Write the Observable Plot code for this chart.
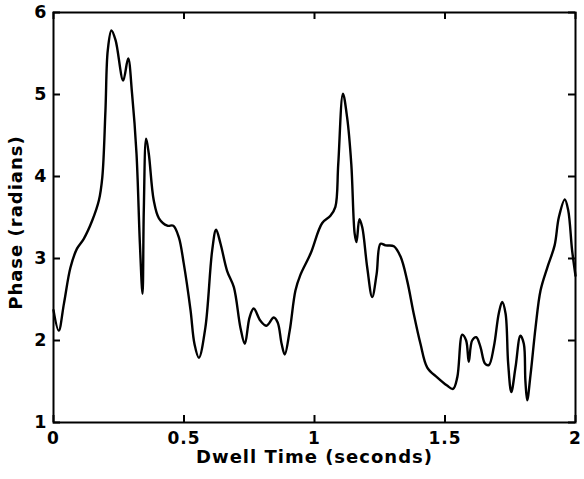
<!DOCTYPE html>
<html>
<head>
<meta charset="utf-8">
<script src="https://cdn.jsdelivr.net/npm/d3@7"></script>
<script src="https://cdn.jsdelivr.net/npm/@observablehq/plot@0.6"></script>
<style>
  html, body { margin: 0; padding: 0; background: #fff; }
</style>
</head>
<body>
<div id="chart"></div>
<script>
const time = [0.000, 0.020, 0.040, 0.065, 0.090, 0.116, 0.148, 0.174, 0.187, 0.199,
  0.208, 0.222, 0.238, 0.267, 0.286, 0.301, 0.318, 0.331, 0.341, 0.346,
  0.355, 0.365, 0.384, 0.404, 0.436, 0.459, 0.480, 0.499, 0.525, 0.540,
  0.557, 0.582, 0.608, 0.623, 0.640, 0.665, 0.691, 0.716, 0.733, 0.751,
  0.767, 0.793, 0.816, 0.844, 0.859, 0.874, 0.886, 0.905, 0.927, 0.946,
  0.985, 1.029, 1.061, 1.080, 1.091, 1.109, 1.125, 1.141, 1.154, 1.161,
  1.172, 1.183, 1.202, 1.221, 1.238, 1.253, 1.272, 1.304, 1.330, 1.355,
  1.380, 1.406, 1.432, 1.470, 1.508, 1.531, 1.547, 1.566, 1.581, 1.591,
  1.604, 1.620, 1.636, 1.653, 1.668, 1.687, 1.706, 1.719, 1.732, 1.742,
  1.754, 1.770, 1.789, 1.802, 1.808, 1.815, 1.828, 1.847, 1.866, 1.892,
  1.920, 1.936, 1.959, 1.972, 1.987, 2.000];
const phase = [2.37, 2.12, 2.45, 2.89, 3.12, 3.24, 3.46, 3.71, 3.99, 4.80,
  5.54, 5.78, 5.66, 5.17, 5.44, 5.01, 4.28, 3.18, 2.57, 3.59,
  4.46, 4.28, 3.71, 3.49, 3.40, 3.40, 3.26, 2.94, 2.37, 1.96,
  1.79, 2.16, 3.10, 3.35, 3.18, 2.85, 2.65, 2.16, 1.96, 2.28,
  2.39, 2.24, 2.18, 2.28, 2.22, 1.96, 1.83, 2.12, 2.61, 2.80,
  3.06, 3.43, 3.52, 3.63, 4.15, 5.01, 4.72, 4.15, 3.30, 3.20,
  3.48, 3.38, 2.89, 2.53, 2.81, 3.18, 3.16, 3.15, 3.02, 2.73,
  2.33, 1.96, 1.67, 1.55, 1.45, 1.41, 1.55, 2.07, 2.00, 1.74,
  2.00, 2.04, 1.92, 1.72, 1.70, 1.92, 2.33, 2.47, 2.33, 1.72,
  1.37, 1.67, 2.06, 1.96, 1.51, 1.27, 1.59, 2.16, 2.61, 2.89,
  3.16, 3.50, 3.72, 3.59, 3.10, 2.79];
const xTicks = [0, 0.5, 1, 1.5, 2];
const yTicks = [1, 2, 3, 4, 5, 6];
const xLabel = "Dwell Time (seconds)";
const yLabel = "Phase (radians)";

const data = time.map((t, i) => ({t, p: phase[i]}));

const W = 584, H = 479, mL = 53, mR = 9, mT = 12, mB = 57;
const frameW = W - mL - mR, frameH = H - mT - mB, tickLen = 7;
const tickStyle = {stroke: "#000", strokeWidth: 2};

const chart = Plot.plot({
  width: W,
  height: H,
  marginLeft: mL,
  marginRight: mR,
  marginTop: mT,
  marginBottom: mB,
  style: {fontFamily: "DejaVu Sans", fontWeight: "bold", letterSpacing: "1px", background: "#fff", color: "#000"},
  x: {domain: [0, 2]},
  y: {domain: [1, 6]},
  marks: [
    Plot.line(data, {x: "t", y: "p", stroke: "#000", strokeWidth: 2.4, curve: "catmull-rom"}),
    Plot.tickX(xTicks, {x: d => d, insetTop: frameH - tickLen, ...tickStyle}),
    Plot.tickX(xTicks, {x: d => d, insetBottom: frameH - tickLen, ...tickStyle}),
    Plot.tickY(yTicks, {y: d => d, insetRight: frameW - tickLen, ...tickStyle}),
    Plot.tickY(yTicks, {y: d => d, insetLeft: frameW - tickLen, ...tickStyle}),
    Plot.frame({stroke: "#000", strokeWidth: 2}),
    Plot.axisX(xTicks, {anchor: "bottom", tickSize: 0, tickPadding: 9, fontSize: 17, fontWeight: "bold", tickFormat: d => String(d), label: null}),
    Plot.axisY(yTicks, {anchor: "left", tickSize: 0, tickPadding: 6, fontSize: 17.5, fontWeight: "bold", tickFormat: d => String(d), label: null}),
    Plot.text([xLabel], {frameAnchor: "bottom", textAnchor: "middle", lineAnchor: "middle", text: d => d, dy: 35, fontSize: 18, fontWeight: "bold", fill: "#000"}),
    Plot.text([yLabel], {frameAnchor: "left", textAnchor: "middle", lineAnchor: "middle", text: d => d, dx: -37.5, dy: 5, rotate: -90, fontSize: 18, fontWeight: "bold", fill: "#000"})
  ]
});
document.getElementById("chart").appendChild(chart);
</script>
</body>
</html>
